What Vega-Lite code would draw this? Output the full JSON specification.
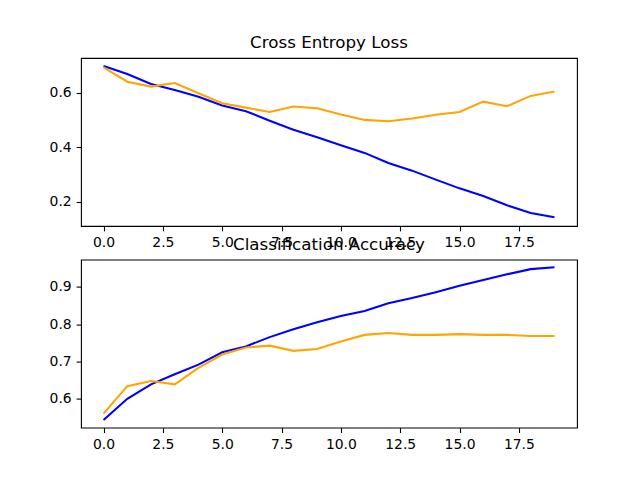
{
  "$schema": "https://vega.github.io/schema/vega-lite/v6.json",
  "padding": {"left": 48, "top": 34, "right": 5, "bottom": 5},
  "background": "white",
  "bounds": "flush",
  "spacing": 33.6,
  "config": {
    "font": "DejaVu Sans",
    "view": {"stroke": "black", "strokeWidth": 1.1},
    "axis": {
      "domain": false,
      "grid": false,
      "ticks": true,
      "tickColor": "black",
      "tickSize": 4.9,
      "tickWidth": 1.1,
      "labelFont": "DejaVu Sans",
      "labelFontSize": 13.9,
      "labelColor": "black",
      "labelPadding": 4.9,
      "title": null
    },
    "title": {"font": "DejaVu Sans", "fontSize": 16.7, "fontWeight": "normal", "color": "black", "offset": 6, "anchor": "middle", "frame": "group"}
  },
  "data": {"values": [
    {"epoch": 0, "metric": "loss", "split": "train", "value": 0.698},
    {"epoch": 1, "metric": "loss", "split": "train", "value": 0.668},
    {"epoch": 2, "metric": "loss", "split": "train", "value": 0.632},
    {"epoch": 3, "metric": "loss", "split": "train", "value": 0.610},
    {"epoch": 4, "metric": "loss", "split": "train", "value": 0.585},
    {"epoch": 5, "metric": "loss", "split": "train", "value": 0.553},
    {"epoch": 6, "metric": "loss", "split": "train", "value": 0.532},
    {"epoch": 7, "metric": "loss", "split": "train", "value": 0.497},
    {"epoch": 8, "metric": "loss", "split": "train", "value": 0.464},
    {"epoch": 9, "metric": "loss", "split": "train", "value": 0.436},
    {"epoch": 10, "metric": "loss", "split": "train", "value": 0.407},
    {"epoch": 11, "metric": "loss", "split": "train", "value": 0.379},
    {"epoch": 12, "metric": "loss", "split": "train", "value": 0.342},
    {"epoch": 13, "metric": "loss", "split": "train", "value": 0.314},
    {"epoch": 14, "metric": "loss", "split": "train", "value": 0.281},
    {"epoch": 15, "metric": "loss", "split": "train", "value": 0.249},
    {"epoch": 16, "metric": "loss", "split": "train", "value": 0.221},
    {"epoch": 17, "metric": "loss", "split": "train", "value": 0.187},
    {"epoch": 18, "metric": "loss", "split": "train", "value": 0.159},
    {"epoch": 19, "metric": "loss", "split": "train", "value": 0.143},
    {"epoch": 0, "metric": "loss", "split": "test", "value": 0.693},
    {"epoch": 1, "metric": "loss", "split": "test", "value": 0.640},
    {"epoch": 2, "metric": "loss", "split": "test", "value": 0.622},
    {"epoch": 3, "metric": "loss", "split": "test", "value": 0.635},
    {"epoch": 4, "metric": "loss", "split": "test", "value": 0.598},
    {"epoch": 5, "metric": "loss", "split": "test", "value": 0.561},
    {"epoch": 6, "metric": "loss", "split": "test", "value": 0.545},
    {"epoch": 7, "metric": "loss", "split": "test", "value": 0.529},
    {"epoch": 8, "metric": "loss", "split": "test", "value": 0.549},
    {"epoch": 9, "metric": "loss", "split": "test", "value": 0.543},
    {"epoch": 10, "metric": "loss", "split": "test", "value": 0.520},
    {"epoch": 11, "metric": "loss", "split": "test", "value": 0.500},
    {"epoch": 12, "metric": "loss", "split": "test", "value": 0.495},
    {"epoch": 13, "metric": "loss", "split": "test", "value": 0.505},
    {"epoch": 14, "metric": "loss", "split": "test", "value": 0.519},
    {"epoch": 15, "metric": "loss", "split": "test", "value": 0.529},
    {"epoch": 16, "metric": "loss", "split": "test", "value": 0.567},
    {"epoch": 17, "metric": "loss", "split": "test", "value": 0.550},
    {"epoch": 18, "metric": "loss", "split": "test", "value": 0.588},
    {"epoch": 19, "metric": "loss", "split": "test", "value": 0.604},
    {"epoch": 0, "metric": "accuracy", "split": "train", "value": 0.542},
    {"epoch": 1, "metric": "accuracy", "split": "train", "value": 0.599},
    {"epoch": 2, "metric": "accuracy", "split": "train", "value": 0.638},
    {"epoch": 3, "metric": "accuracy", "split": "train", "value": 0.665},
    {"epoch": 4, "metric": "accuracy", "split": "train", "value": 0.691},
    {"epoch": 5, "metric": "accuracy", "split": "train", "value": 0.724},
    {"epoch": 6, "metric": "accuracy", "split": "train", "value": 0.740},
    {"epoch": 7, "metric": "accuracy", "split": "train", "value": 0.765},
    {"epoch": 8, "metric": "accuracy", "split": "train", "value": 0.786},
    {"epoch": 9, "metric": "accuracy", "split": "train", "value": 0.805},
    {"epoch": 10, "metric": "accuracy", "split": "train", "value": 0.822},
    {"epoch": 11, "metric": "accuracy", "split": "train", "value": 0.835},
    {"epoch": 12, "metric": "accuracy", "split": "train", "value": 0.856},
    {"epoch": 13, "metric": "accuracy", "split": "train", "value": 0.870},
    {"epoch": 14, "metric": "accuracy", "split": "train", "value": 0.886},
    {"epoch": 15, "metric": "accuracy", "split": "train", "value": 0.903},
    {"epoch": 16, "metric": "accuracy", "split": "train", "value": 0.919},
    {"epoch": 17, "metric": "accuracy", "split": "train", "value": 0.934},
    {"epoch": 18, "metric": "accuracy", "split": "train", "value": 0.948},
    {"epoch": 19, "metric": "accuracy", "split": "train", "value": 0.953},
    {"epoch": 0, "metric": "accuracy", "split": "test", "value": 0.559},
    {"epoch": 1, "metric": "accuracy", "split": "test", "value": 0.633},
    {"epoch": 2, "metric": "accuracy", "split": "test", "value": 0.647},
    {"epoch": 3, "metric": "accuracy", "split": "test", "value": 0.638},
    {"epoch": 4, "metric": "accuracy", "split": "test", "value": 0.682},
    {"epoch": 5, "metric": "accuracy", "split": "test", "value": 0.718},
    {"epoch": 6, "metric": "accuracy", "split": "test", "value": 0.737},
    {"epoch": 7, "metric": "accuracy", "split": "test", "value": 0.742},
    {"epoch": 8, "metric": "accuracy", "split": "test", "value": 0.728},
    {"epoch": 9, "metric": "accuracy", "split": "test", "value": 0.733},
    {"epoch": 10, "metric": "accuracy", "split": "test", "value": 0.753},
    {"epoch": 11, "metric": "accuracy", "split": "test", "value": 0.771},
    {"epoch": 12, "metric": "accuracy", "split": "test", "value": 0.776},
    {"epoch": 13, "metric": "accuracy", "split": "test", "value": 0.771},
    {"epoch": 14, "metric": "accuracy", "split": "test", "value": 0.771},
    {"epoch": 15, "metric": "accuracy", "split": "test", "value": 0.773},
    {"epoch": 16, "metric": "accuracy", "split": "test", "value": 0.771},
    {"epoch": 17, "metric": "accuracy", "split": "test", "value": 0.771},
    {"epoch": 18, "metric": "accuracy", "split": "test", "value": 0.768},
    {"epoch": 19, "metric": "accuracy", "split": "test", "value": 0.768}
  ]},
  "vconcat": [
    {
      "title": "Cross Entropy Loss",
      "width": 496,
      "height": 168,
      "transform": [{"filter": "datum.metric === 'loss'"}],
      "mark": {"type": "line", "strokeWidth": 2.08, "clip": true},
      "encoding": {
        "x": {"field": "epoch", "type": "quantitative", "scale": {"domain": [-0.95, 19.95], "nice": false, "zero": false},
              "axis": {"values": [0, 2.5, 5, 7.5, 10, 12.5, 15, 17.5], "format": ".1f"}},
        "y": {"field": "value", "type": "quantitative", "scale": {"domain": [0.111, 0.727], "nice": false, "zero": false},
              "axis": {"values": [0.2, 0.4, 0.6], "format": ".1f"}},
        "color": {"field": "split", "type": "nominal", "scale": {"domain": ["train", "test"], "range": ["#0000ff", "#ffa500"]}, "legend": null},
        "order": {"field": "epoch"}
      }
    },
    {
      "title": "Classification Accuracy",
      "width": 496,
      "height": 168,
      "transform": [{"filter": "datum.metric === 'accuracy'"}],
      "mark": {"type": "line", "strokeWidth": 2.08, "clip": true},
      "encoding": {
        "x": {"field": "epoch", "type": "quantitative", "scale": {"domain": [-0.95, 19.95], "nice": false, "zero": false},
              "axis": {"values": [0, 2.5, 5, 7.5, 10, 12.5, 15, 17.5], "format": ".1f"}},
        "y": {"field": "value", "type": "quantitative", "scale": {"domain": [0.5215, 0.9736], "nice": false, "zero": false},
              "axis": {"values": [0.6, 0.7, 0.8, 0.9], "format": ".1f"}},
        "color": {"field": "split", "type": "nominal", "scale": {"domain": ["train", "test"], "range": ["#0000ff", "#ffa500"]}, "legend": null},
        "order": {"field": "epoch"}
      }
    }
  ]
}
